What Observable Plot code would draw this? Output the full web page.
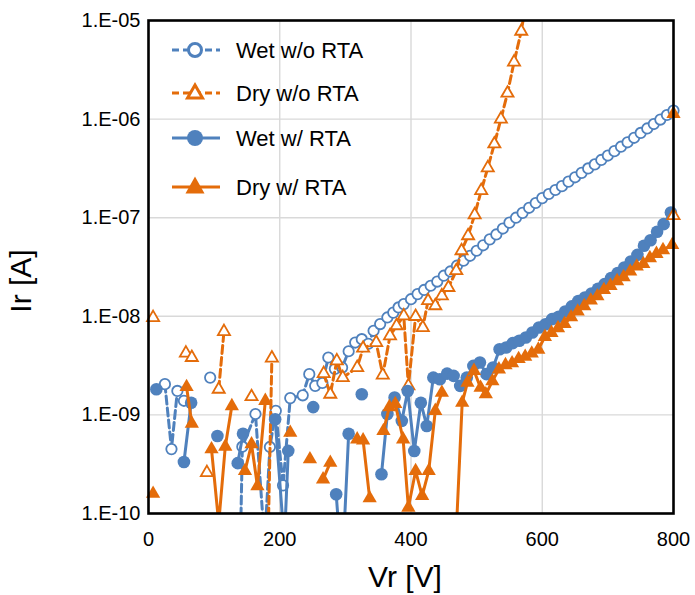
<!DOCTYPE html>
<html><head><meta charset="utf-8">
<script src="https://cdn.jsdelivr.net/npm/d3@7"></script>
<script src="https://cdn.jsdelivr.net/npm/@observablehq/plot@0.6"></script>
<style>
body{margin:0;background:#fff;font-family:"Liberation Sans",Arial,sans-serif;}
#wrap{position:relative;width:695px;height:595px;}
.ov{position:absolute;color:#000;font-family:"Liberation Sans",Arial,sans-serif;white-space:nowrap;line-height:1;}
</style></head><body><div id="wrap"></div>
<script>
// ---- data (Vr in V, Ir in A); null = no point (gap) ----
const wetWoV = [25,35,44,54,70,94,115,138,143,163,177,185,194,205,216,235,245,254,265,274,284,295,305,315,325,335,343,353,364,373,381,389,400,410,420,430,440,450,460,470,480,490,500,510,520,530,540,550,560,570,580,590,600,610,620,630,640,650,660,670,680,690,700,710,720,730,740,750,760,770,780,790,800];
const wetWoI = [2.05e-9,4.5e-10,1.75e-9,1.39e-9,null,2.39e-9,null,1e-11,4.76e-10,1.02e-9,5e-11,4.73e-10,1.1e-9,1.93e-10,1.48e-9,1.58e-9,2.59e-9,1.97e-9,2.11e-9,3.82e-9,2.93e-9,3.02e-9,4.42e-9,5.42e-9,5.86e-9,5.26e-9,7.13e-9,8.34e-9,9.73e-9,1.09e-8,1.23e-8,1.33e-8,1.49e-8,1.68e-8,1.85e-8,2.04e-8,2.25e-8,2.58e-8,2.85e-8,3.26e-8,3.66e-8,4.11e-8,4.62e-8,5.25e-8,6.03e-8,6.76e-8,7.76e-8,8.91e-8,1.0e-7,1.12e-7,1.26e-7,1.41e-7,1.58e-7,1.74e-7,1.91e-7,2.09e-7,2.32e-7,2.57e-7,2.85e-7,3.16e-7,3.47e-7,3.85e-7,4.27e-7,4.73e-7,5.25e-7,5.82e-7,6.46e-7,7.24e-7,8.04e-7,8.91e-7,9.89e-7,1.10e-6,1.22e-6];

const dryWoV = [7,30,57,66,77,89,98,107,115,135,157,170,180,188,230,267,277,287,296,318,327,347,357,368,378,389,396,407,418,426,437,447,457,469,477,487,497,507,517,527,537,547,557,568,578];
const dryWoI = [9.7e-9,null,4.23e-9,3.82e-9,null,2.6e-10,null,1.82e-9,7.0e-9,null,1.53e-9,null,1e-11,3.77e-9,null,2.62e-9,1.62e-9,3.53e-9,2.39e-9,3.02e-9,4.75e-9,5.42e-9,2.53e-9,6.34e-9,8.02e-9,1.01e-8,1.97e-9,9.95e-9,7.69e-9,1.44e-8,1.28e-8,1.61e-8,1.96e-8,2.9e-8,4.62e-8,6.56e-8,1.07e-7,1.88e-7,3.2e-7,5.6e-7,1.0e-6,1.83e-6,3.78e-6,7.78e-6,1.95e-5];

const wetWV = [12,33,54,65,85,105,120,136,144,170,193,207,213,230,251,270,286,295,305,315,325,340,355,364,375,386,395,405,415,424,434,444,455,465,475,485,495,505,515,525,535,545,555,565,575,585,595,605,615,625,635,645,655,665,675,685,695,705,715,725,735,745,755,765,775,785,796];
const wetWI = [1.82e-9,null,3.33e-10,1.33e-9,null,6.12e-10,null,3.24e-10,6.45e-10,null,9.04e-10,5e-11,4.32e-10,null,1.2e-9,null,1.57e-10,2.5e-11,6.45e-10,null,1.62e-9,null,2.5e-10,1.02e-9,1.5e-9,8.7e-10,1.75e-9,4.31e-10,1.33e-9,7.72e-10,2.39e-9,2.3e-9,2.62e-9,2.49e-9,1.97e-9,2.39e-9,3.14e-9,3.4e-9,2.59e-9,3.02e-9,4.64e-9,4.82e-9,5.35e-9,5.64e-9,6.1e-9,6.84e-9,7.69e-9,8.3e-9,9.37e-9,9.89e-9,1.12e-8,1.26e-8,1.43e-8,1.55e-8,1.7e-8,1.9e-8,2.12e-8,2.45e-8,2.75e-8,3.13e-8,3.6e-8,4.2e-8,5.2e-8,5.9e-8,7.2e-8,8.6e-8,1.13e-7];

const dryWV = [7,20,58,66,80,96,107,117,127,137,147,157,166,178,195,216,230,246,256,266,277,297,318,327,337,347,358,367,376,388,396,407,417,427,437,447,457,466,478,486,496,506,514,524,534,544,554,564,574,584,594,604,614,624,634,644,654,664,674,684,694,704,714,724,734,744,754,764,774,784,798];
const dryWI = [1.59e-10,null,1.92e-9,8.17e-10,null,4.49e-10,8e-11,4.77e-10,1.23e-9,null,2.7e-10,5.04e-10,1.9e-10,1.39e-9,null,6.6e-10,null,3.55e-10,null,2.22e-10,3.28e-10,null,5.66e-10,5.53e-10,1.43e-10,null,6.88e-10,1.2e-9,1.29e-9,5.66e-10,1.15e-10,2.7e-10,1.51e-10,2.7e-10,1.1e-9,1.68e-9,null,2.4e-11,1.33e-9,2.13e-9,2.8e-9,1.89e-9,1.62e-9,2.2e-9,2.9e-9,3.2e-9,3.35e-9,3.7e-9,3.9e-9,4.2e-9,4.6e-9,6.2e-9,6.8e-9,7.6e-9,8.4e-9,9.8e-9,1.12e-8,1.27e-8,1.45e-8,1.6e-8,1.85e-8,2.04e-8,2.28e-8,2.5e-8,2.85e-8,3.2e-8,3.4e-8,3.9e-8,4.3e-8,4.7e-8,5.3e-8];

// stray markers at the 800 V end
const extraOpenTriV = [800], extraOpenTriI = [1.05e-7];
const extraFillTriV = [800], extraFillTriI = [1.13e-6];

const xTicks = [0,200,400,600,800];
const yTicks = [1e-10,1e-9,1e-8,1e-7,1e-6,1e-5];
const seriesNames = ["Wet w/o RTA","Dry w/o RTA","Wet w/ RTA","Dry w/ RTA"];

const blue = "#4F81BD", orange = "#E46C0A";
const rows = (V, I) => V.map((v, k) => ({v, i: I[k]}));
const inRange = d => d.i != null && d.i >= 1e-10 && d.i <= 1e-5;

const series = [
  {data: rows(wetWoV, wetWoI), color: blue, dash: "8,4", symbol: "circle", fill: "white", r: 5.2, sw: 1.8},
  {data: rows(dryWoV, dryWoI), color: orange, dash: "8,4", symbol: "triangle", fill: "white", r: 4.5, sw: 1.8},
  {data: rows(wetWV, wetWI), color: blue, dash: null, symbol: "circle", fill: blue, r: 6.3, sw: 0},
  {data: rows(dryWV, dryWI), color: orange, dash: null, symbol: "triangle", fill: orange, r: 5.3, sw: 0}
];

const fmt = d => { const e = Math.round(Math.log10(d)); return "1.E" + (e < 0 ? "-" : "+") + String(Math.abs(e)).padStart(2, "0"); };

const marks = [
  Plot.ruleX(xTicks.slice(1, -1), {stroke: "#d9d9d9", strokeWidth: 1.4}),
  Plot.ruleY(yTicks.slice(1, -1), {stroke: "#d9d9d9", strokeWidth: 1.4}),
];
for (const s of series) {
  marks.push(Plot.line(s.data, {x: "v", y: "i", stroke: s.color, strokeWidth: 3, strokeDasharray: s.dash, clip: true, curve: "linear"}));
  marks.push(Plot.dot(s.data.filter(inRange), {x: "v", y: "i", symbol: s.symbol, r: s.r, fill: s.fill, stroke: s.color, strokeWidth: s.sw}));
}
marks.push(Plot.dot(rows(extraOpenTriV, extraOpenTriI), {x: "v", y: "i", symbol: "triangle", r: 4.5, fill: "white", stroke: orange, strokeWidth: 1.8}));
marks.push(Plot.dot(rows(extraFillTriV, extraFillTriI), {x: "v", y: "i", symbol: "triangle", r: 5.3, fill: orange}));
marks.push(Plot.frame({stroke: "#000", strokeWidth: 2.6}));
marks.push(Plot.axisX(xTicks, {tickSize: 0, tickPadding: 18, fontSize: 20, label: null}));
marks.push(Plot.axisY(yTicks, {tickSize: 0, tickPadding: 8, fontSize: 20, tickFormat: fmt, label: null}));

const chart = Plot.plot({
  width: 695, height: 595,
  marginLeft: 148, marginRight: 22, marginTop: 20, marginBottom: 82,
  x: {domain: [0, 800]},
  y: {type: "log", domain: [1e-10, 1e-5]},
  style: {fontFamily: '"Liberation Sans", Arial, sans-serif', color: "#000", background: "#fff"},
  marks
});
const wrap = document.getElementById("wrap");
wrap.appendChild(chart);

// axis titles
const xt = document.createElement("div");
xt.className = "ov"; xt.textContent = "Vr [V]";
xt.style.cssText += "left:405px;top:577px;font-size:30px;transform:translate(-50%,-50%);";
wrap.appendChild(xt);
const yt = document.createElement("div");
yt.className = "ov"; yt.textContent = "Ir [A]";
yt.style.cssText += "left:21px;top:281px;font-size:30px;transform:translate(-50%,-50%) rotate(-90deg);";
wrap.appendChild(yt);

// legend (inside plot area, top-left)
const ns = "http://www.w3.org/2000/svg";
const leg = document.createElementNS(ns, "svg");
leg.setAttribute("width", 260); leg.setAttribute("height", 200);
leg.style.cssText = "position:absolute;left:160px;top:25px;overflow:visible;";
const rowY = [25, 68, 113, 162];
const legSeries = [
  {color: blue, dash: "7,4", sym: "circle", fill: "white"},
  {color: orange, dash: "7,4", sym: "triangle", fill: "white"},
  {color: blue, dash: null, sym: "circle", fill: blue},
  {color: orange, dash: null, sym: "triangle", fill: orange}
];
legSeries.forEach((s, k) => {
  const y = rowY[k];
  const ln = document.createElementNS(ns, "line");
  ln.setAttribute("x1", 12); ln.setAttribute("x2", 60); ln.setAttribute("y1", y); ln.setAttribute("y2", y);
  ln.setAttribute("stroke", s.color); ln.setAttribute("stroke-width", 3);
  if (s.dash) ln.setAttribute("stroke-dasharray", s.dash);
  leg.appendChild(ln);
  let m;
  if (s.sym === "circle") {
    m = document.createElementNS(ns, "circle");
    m.setAttribute("cx", 35); m.setAttribute("cy", y); m.setAttribute("r", s.fill === "white" ? 6.5 : 8);
  } else {
    m = document.createElementNS(ns, "path");
    const h = s.fill === "white" ? 13 : 17, w = s.fill === "white" ? 15 : 19;
    m.setAttribute("d", `M35,${y - h * 0.62}L${35 + w / 2},${y + h * 0.38}L${35 - w / 2},${y + h * 0.38}Z`);
  }
  m.setAttribute("fill", s.fill); m.setAttribute("stroke", s.color);
  m.setAttribute("stroke-width", s.fill === "white" ? 3 : 0);
  leg.appendChild(m);
  const t = document.createElementNS(ns, "text");
  t.setAttribute("x", 76); t.setAttribute("y", y + 8);
  t.setAttribute("font-size", 22); t.setAttribute("fill", "#000");
  t.setAttribute("font-family", '"Liberation Sans", Arial, sans-serif');
  t.textContent = seriesNames[k];
  leg.appendChild(t);
});
wrap.appendChild(leg);
</script></body></html>
